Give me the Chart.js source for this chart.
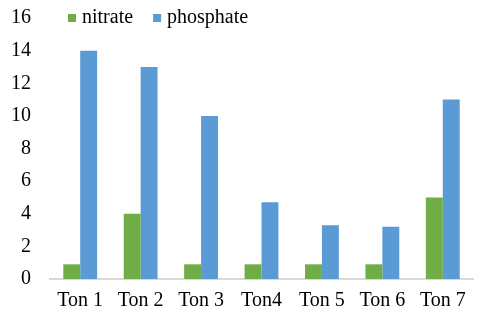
<!DOCTYPE html>
<html>
<head>
<meta charset="utf-8">
<script src="https://cdn.jsdelivr.net/npm/chart.js@4/dist/chart.umd.min.js"></script>
<style>
  html, body { margin: 0; padding: 0; background: #fff; }
  #wrap { width: 480px; height: 321px; }
</style>
</head>
<body>
<div id="wrap"><canvas id="barChart" width="480" height="321"></canvas></div>
<script>
const categories = ["Ton 1", "Ton 2", "Ton 3", "Ton4", "Ton 5", "Ton 6", "Ton 7"];
const nitrate = [0.9, 4, 0.9, 0.9, 0.9, 0.9, 5];
const phosphate = [14, 13, 10, 4.7, 3.3, 3.2, 11];

const FONT = "Liberation Serif";

// legend sits inside the plot, next to the "16" tick, like the original
const innerLegend = {
  id: "innerLegend",
  afterDraw(chart) {
    const c = chart.ctx;
    let x = 68;
    const y = 18;
    c.save();
    c.font = `20px "${FONT}"`;
    c.textBaseline = "middle";
    chart.data.datasets.forEach((ds) => {
      c.fillStyle = ds.backgroundColor;
      c.fillRect(x, y - 4, 8, 8);
      c.fillStyle = "#000";
      c.fillText(ds.label, x + 14, y);
      x += 14 + c.measureText(ds.label).width + 20;
    });
    c.restore();
  },
};

const ctx = document.getElementById("barChart").getContext("2d");

new Chart(ctx, {
  type: "bar",
  data: {
    labels: categories,
    datasets: [
      { label: "nitrate", data: nitrate, backgroundColor: "#70AD47" },
      { label: "phosphate", data: phosphate, backgroundColor: "#5B9BD5" },
    ],
  },
  options: {
    responsive: false,
    animation: false,
    layout: { padding: { left: 0, right: 7, top: -24, bottom: 6 } },
    datasets: { bar: { categoryPercentage: 0.56, barPercentage: 1 } },
    plugins: {
      legend: { display: false },
      tooltip: { enabled: false },
    },
    scales: {
      x: {
        grid: { display: false },
        border: { color: "#d9d9d9", width: 2 },
        ticks: { font: { family: FONT, size: 20 }, color: "#000", padding: 2 },
      },
      y: {
        min: 0,
        max: 16,
        grid: { display: false },
        border: { display: false },
        ticks: { stepSize: 2, font: { family: FONT, size: 20, lineHeight: 0.7 }, color: "#000", padding: 11 },
      },
    },
  },
  plugins: [innerLegend],
});
</script>
</body>
</html>
